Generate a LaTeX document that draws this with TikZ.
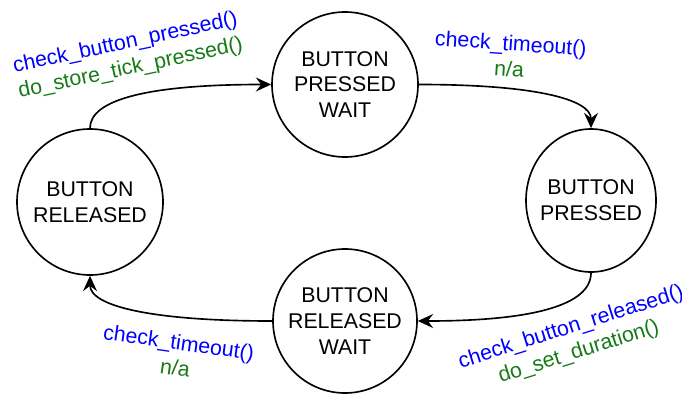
\documentclass[tikz,border=0pt]{standalone}
\usepackage{fontspec}
\setmainfont{Liberation Sans}
\usetikzlibrary{arrows.meta,calc,shapes.geometric}
\definecolor{labblue}{RGB}{0,0,255}
\definecolor{labgreen}{RGB}{22,122,22}
\begin{document}
\begin{tikzpicture}[x=0.03cm,y=-0.03cm,
  state/.style={ellipse,draw,line width=1.4pt,inner sep=0pt},
  statetext/.style={align=center,inner sep=0pt,font=\fontsize{18.2}{22.1}\selectfont},
  edge/.style={line width=1.4pt,-{Stealth[length=4.6mm,width=4.2mm,inset=1.6mm]}},
  lab/.style={align=center,inner sep=0pt,font=\fontsize{18.2}{22.1}\selectfont}]
\useasboundingbox (0,0) rectangle (682,394);
\node[state,minimum width=4.38cm,minimum height=4.38cm] (R) at (90,202) {};
\node[state,minimum width=4.38cm,minimum height=4.35cm] (PW) at (345,84.5) {};
\node[state,minimum width=3.9cm,minimum height=4.29cm] (P) at (591,200.5) {};
\node[state,minimum width=4.32cm,minimum height=4.32cm] (RW) at (345,321) {};
\node[statetext] (Rt) at (R) {BUTTON\\RELEASED};
\node[statetext] (PWt) at (PW) {BUTTON\\PRESSED\\WAIT};
\node[statetext] (Pt) at (P) {BUTTON\\PRESSED};
\node[statetext] (RWt) at (RW) {BUTTON\\RELEASED\\WAIT};

\draw[edge] (R.north) .. controls ($(R.north)!2/3!(R.north|-PW.west)$) and ($(PW.west)!2/3!(R.north|-PW.west)$) .. (PW.west);
\draw[edge] (PW.east) .. controls ($(PW.east)!2/3!(P.north|-PW.east)$) and ($(P.north)!2/3!(P.north|-PW.east)$) .. (P.north);
\draw[edge] (P.south) .. controls ($(P.south)!2/3!(P.south|-RW.east)$) and ($(RW.east)!2/3!(P.south|-RW.east)$) .. (RW.east);
\draw[edge] (RW.west) .. controls ($(RW.west)!2/3!(R.south|-RW.west)$) and ($(R.south)!2/3!(R.south|-RW.west)$) .. (R.south);

\node[lab,rotate=12] (L1) at (128,56) {\textcolor{labblue}{check\_button\_pressed()}\\\textcolor{labgreen}{do\_store\_tick\_pressed()}};
\node[lab,rotate=-4] (L2) at (510,56) {\textcolor{labblue}{check\_timeout()}\\\textcolor{labgreen}{n/a}};
\node[lab,rotate=-8] (L3) at (177,355) {\textcolor{labblue}{check\_timeout()}\\\textcolor{labgreen}{n/a}};
\node[lab,rotate=17.5] (L4) at (575,340) {\textcolor{labblue}{check\_button\_released()}\\\textcolor{labgreen}{do\_set\_duration()}};
\end{tikzpicture}
\end{document}
